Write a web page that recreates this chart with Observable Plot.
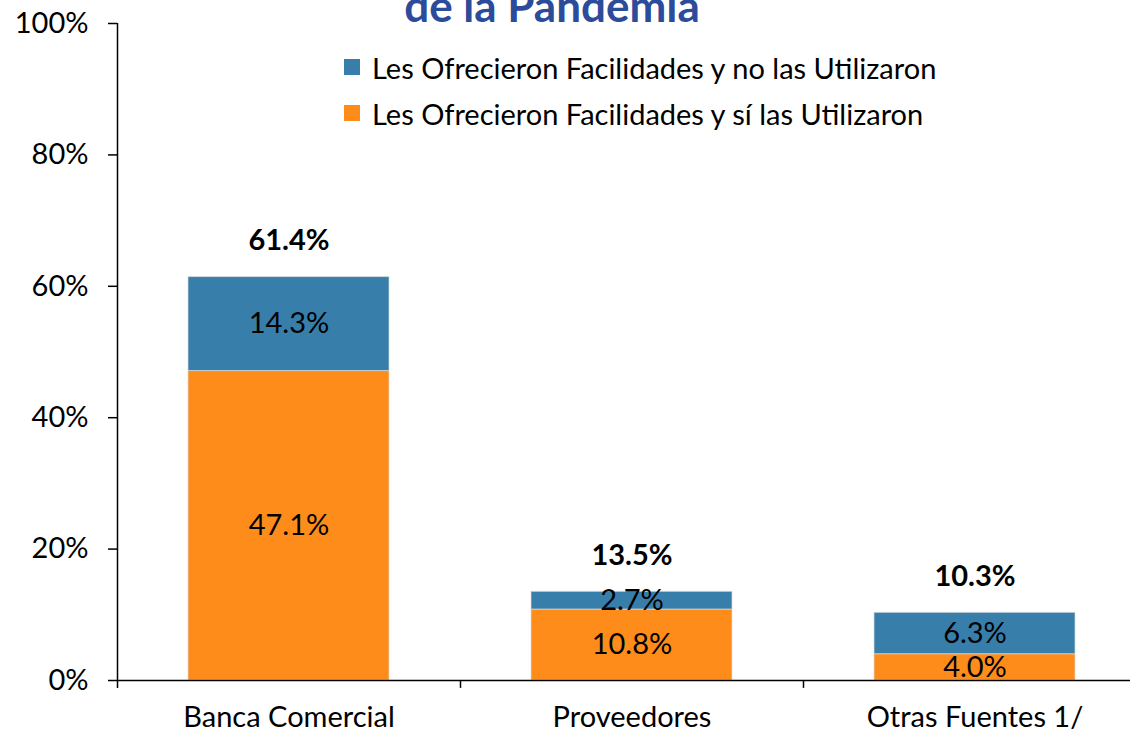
<!DOCTYPE html>
<html>
<head>
<meta charset="utf-8">
<script src="https://cdn.jsdelivr.net/npm/d3@7"></script>
<script src="https://cdn.jsdelivr.net/npm/@observablehq/plot@0.6"></script>
<style>
  html, body { margin: 0; padding: 0; background: #fff; }
  #wrap { position: relative; width: 1130px; height: 734px; overflow: hidden; font-family: Lato, "Open Sans", sans-serif; }
  #title { position: absolute; left: 0; width: 1104px; top: -20px; text-align: center; font-weight: bold; font-size: 44px; color: #2C4B9B; line-height: 50px; }
  .leg { position: absolute; left: 344px; font-size: 29px; color: #000; display: flex; align-items: center; height: 30px; white-space: nowrap; }
  .leg span.sw { display: inline-block; width: 16px; height: 16px; margin-right: 12px; }
</style>
</head>
<body>
<div id="wrap">
  <div id="chart"></div>
  <div id="title">de la Pandemia</div>
  <div id="legend"></div>
</div>
<script>
const categories = ["Banca Comercial", "Proveedores", "Otras Fuentes 1/"];
const seriesNames = ["Les Ofrecieron Facilidades y no las Utilizaron", "Les Ofrecieron Facilidades y sí las Utilizaron"];
const usedValues = [47.1, 10.8, 4.0];      // "sí las Utilizaron" (bottom, orange)
const notUsedValues = [14.3, 2.7, 6.3];    // "no las Utilizaron" (top, blue)
const totals = [61.4, 13.5, 10.3];
const yTicks = [0, 20, 40, 60, 80, 100];
const colors = ["#377EAB", "#FD8C1B"];

const rows = [];
categories.forEach((c, i) => {
  rows.push({cat: c, series: seriesNames[1], value: usedValues[i]});
  rows.push({cat: c, series: seriesNames[0], value: notUsedValues[i]});
});
const totalRows = categories.map((c, i) => ({cat: c, total: totals[i]}));

const bw = (1146 - 117) / categories.length;

const chart = Plot.plot({
  width: 1130,
  height: 734,
  marginTop: 23,
  marginBottom: 54,
  marginLeft: 117,
  marginRight: 0,
  style: {fontFamily: "Lato, 'Open Sans', sans-serif", fontSize: "29px", color: "#000", background: "#fff"},
  x: {domain: categories, range: [117, 1146], padding: 0, label: null},
  y: {domain: [0, 100], label: null},
  color: {domain: seriesNames, range: colors},
  marks: [
    Plot.barY(rows, {x: "cat", y: "value", fill: "series", insetLeft: 71, insetRight: 71, stroke: "#ddd", strokeOpacity: 0.7, strokeWidth: 1}),
    Plot.text(rows, Plot.stackY({x: "cat", y: "value", text: d => d.value.toFixed(1) + "%", fill: "#000"})),
    Plot.text(totalRows, {x: "cat", y: "total", text: d => d.total.toFixed(1) + "%", dy: -36, fontWeight: "bold", fill: "#000"}),
    Plot.ruleY([0], {stroke: "#000", strokeWidth: 1.5}),
    Plot.ruleX(categories, {x: d => d, dx: -bw / 2, y1: -1.2, y2: (d, i) => i === 0 ? 100 : 0, stroke: "#000", strokeWidth: 1.5}),
    Plot.axisY({ticks: yTicks, tickFormat: d => d + "%", tickSize: 9, tickPadding: 20, strokeWidth: 1.5}),
    Plot.axisX({tickSize: 0, tickPadding: 26})
  ]
});
document.getElementById("chart").appendChild(chart);

const legend = document.getElementById("legend");
const legendOrder = [0, 1];
const legendTops = [52, 98];
legendOrder.forEach((k, j) => {
  const div = document.createElement("div");
  div.className = "leg";
  div.style.top = legendTops[j] + "px";
  div.innerHTML = `<span class="sw" style="background:${colors[k]}"></span>${seriesNames[k]}`;
  legend.appendChild(div);
});
</script>
</body>
</html>
